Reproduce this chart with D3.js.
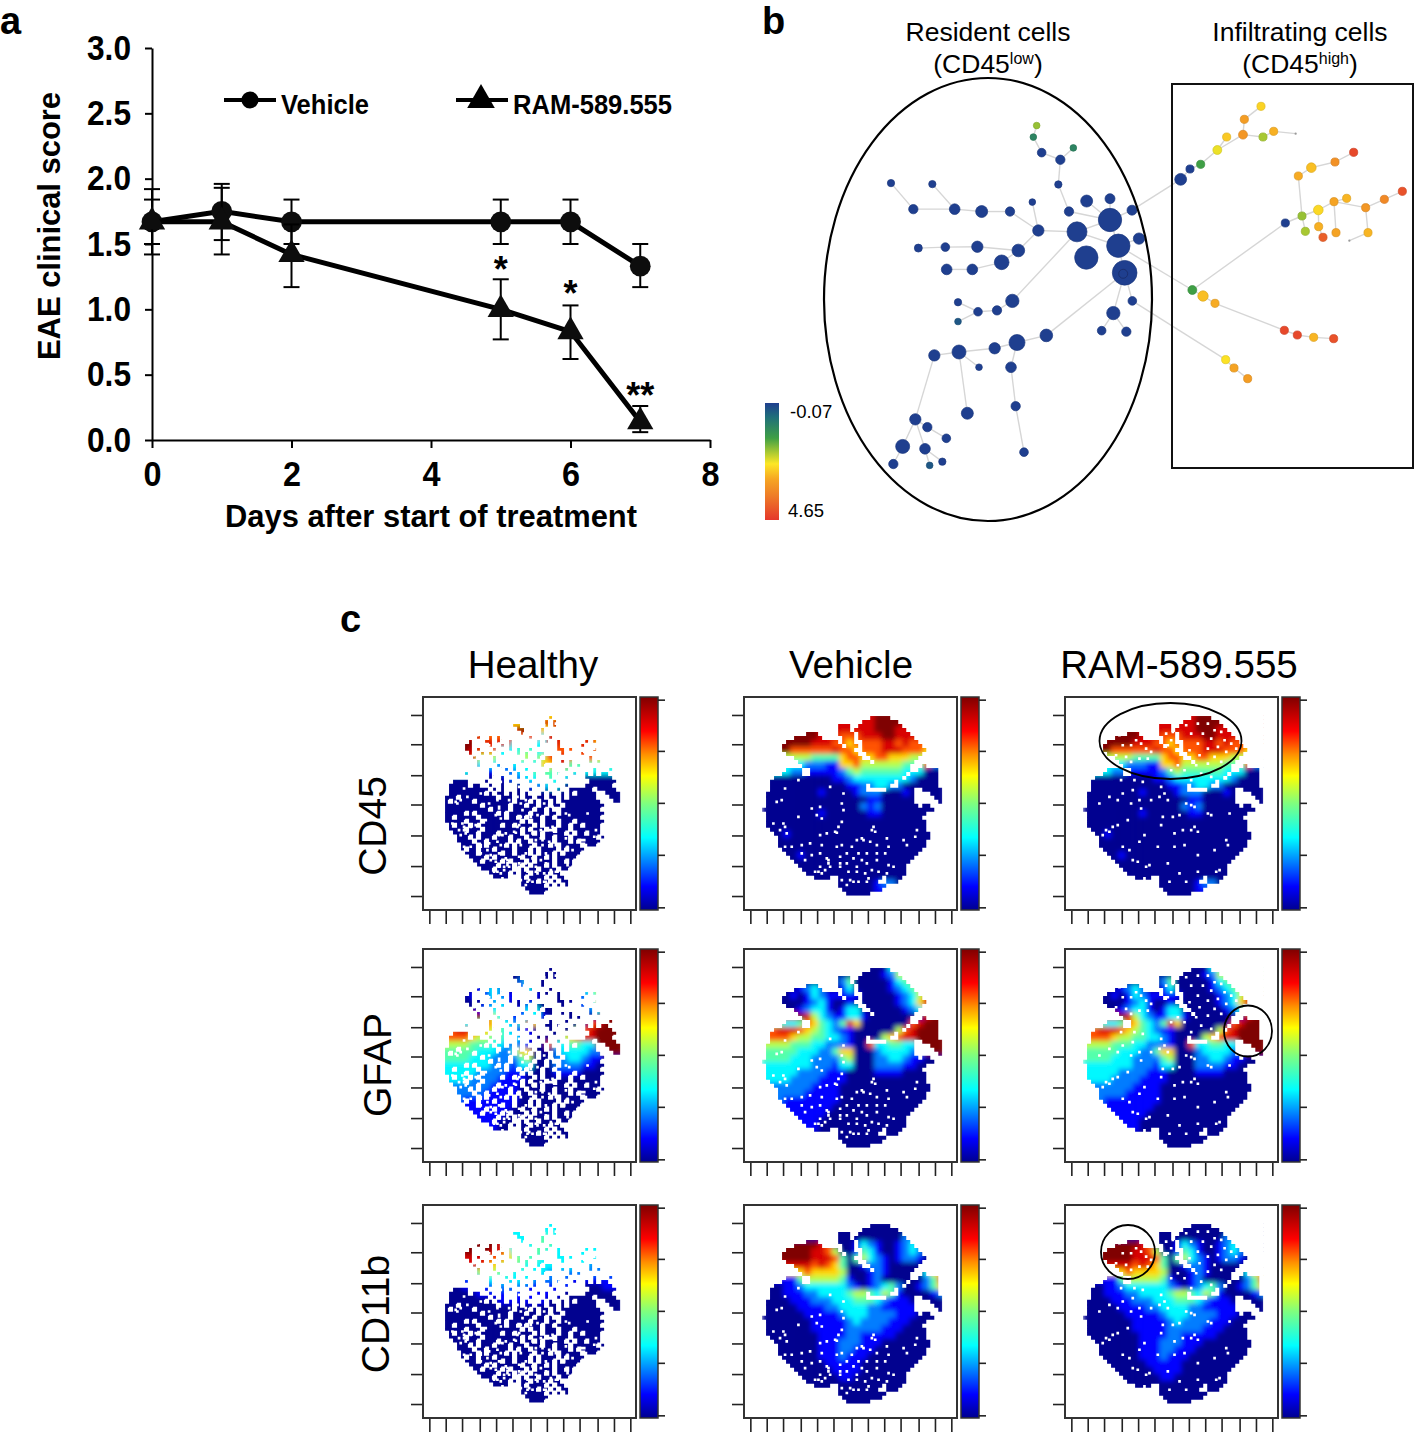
<!DOCTYPE html>
<html>
<head>
<meta charset="utf-8">
<script src="https://cdn.jsdelivr.net/npm/d3@7"></script>
<style>
  html, body { margin: 0; padding: 0; background: #fff; }
  svg { display: block; font-family: "Liberation Sans", Arial, sans-serif; }
</style>
</head>
<body>
<svg id="fig" width="1418" height="1435"></svg>
<script>
// panel a
var days = [0, 1, 2, 5, 6, 7]
var vehicleScore = [1.67, 1.75, 1.67, 1.67, 1.67, 1.33]
var vehicleHigh = [1.84, 1.96, 1.84, 1.84, 1.84, 1.5]
var vehicleLow = [1.5, 1.53, 1.5, 1.5, 1.5, 1.17]
var ramScore = [1.67, 1.67, 1.42, 1.0, 0.83, 0.14]
var ramHigh = [1.92, 1.93, 1.65, 1.23, 1.03, 0.26]
var ramLow = [1.42, 1.42, 1.17, 0.77, 0.62, 0.06]
var stars = [[5, 1.36, '*'], [6, 1.18, '*'], [7, 0.4, '**']]

// panel b: [id, x, y, radius, level] in layout units, level 0 (blue) to 1 (red)
var residentNodes = [
  ['r1',830,371,10,.40],['r2',820,405,10,.2],['r3',845,451,13,0],['r4',901,472,14,0],['r5',940,437,10,.2],
  ['r6',895,545,11,0],['r7',927,625,14,0],['r8',980,594,18,0],['r9',1050,587,15,0],['r10',1050,650,35,0],
  ['r11',1116,621,15,0],['r12',951,685,30,0],['r13',1075,726,35,0],['r14',1137,705,17,0],['r15',979,761,35,0],
  ['r16',1094,806,37,0],['r17',1117,889,13,0],['r18',1060,925,20,0],['r19',1025,977,13,0],['r20',1099,980,14,0],
  ['r21',835,681,17,0],['r22',817,597,10,0],['r23',750,625,14,0],['r24',665,625,18,0],['r25',584,618,16,0],
  ['r26',517,544,11,0],['r27',460,618,14,0],['r28',393,541,11,0],['r29',775,740,19,0],['r30',652,729,17,0],
  ['r31',556,730,13,0],['r32',475,733,12,0],['r33',725,775,22,0],['r34',637,796,16,0],['r35',560,796,16,0],
  ['r36',757,889,20,0],['r37',711,917,14,0],['r38',654,921,13,0],['r39',594,893,11,0],['r40',594,950,10,.06],
  ['r41',859,991,19,0],['r42',771,1012,24,0],['r43',704,1029,17,0],['r44',597,1040,21,0],['r45',523,1050,17,0],
  ['r46',657,1085,10,0],['r47',753,1085,16,0],['r48',767,1200,14,0],['r49',792,1336,13,0],['r50',622,1221,18,0],
  ['r51',466,1239,17,0],['r52',502,1262,14,0],['r53',559,1295,13,0],['r54',428,1319,21,0],['r55',495,1326,16,0],
  ['r56',547,1364,11,0],['r57',509,1375,10,.06],['r58',400,1371,14,0]
]
var infiltratingNodes = [
  ['i1',92,508,16,0],['i2',120,477,11,0],['i3',152,463,11,.3],['i4',202,420,12,.5],['i5',230,381,11,.58],
  ['i6',279,374,12,.7],['i7',283,328,11,.68],['i8',333,289,11,.56],['i9',339,381,11,.42],['i10',371,364,11,.63],
  ['i11',437,371,3,-1],['i12',406,639,11,0],['i13',456,618,11,.40],['i14',466,664,11,.42],['i15',505,600,13,.55],
  ['i16',506,650,11,.63],['i17',519,682,11,.88],['i18',552,575,11,.66],['i19',558,668,11,.66],['i20',590,565,11,.62],
  ['i21',647,593,11,.7],['i22',654,668,11,.62],['i23',598,692,3,-1],['i24',703,568,11,.75],['i25',757,544,11,.92],
  ['i26',445,498,11,.64],['i27',484,473,13,.6],['i28',555,456,11,.72],['i29',611,427,11,.95],['i30',127,840,12,.3],
  ['i31',159,858,14,.6],['i32',195,880,11,.64],['i33',403,961,11,.95],['i34',442,975,11,.95],['i35',491,982,11,.62],
  ['i36',551,986,11,.92],['i37',227,1049,11,.53],['i38',252,1074,11,.66],['i39',293,1106,11,.68]
]
var treeEdges = 'r1-r2 r2-r3 r3-r4 r4-r5 r4-r6 r6-r7 r7-r10 r8-r10 r9-r10 r10-r11 r10-r12 r12-r13 r10-r13 r12-r21 r21-r22 r21-r23 r23-r24 r24-r25 r25-r26 r25-r27 r27-r28 r21-r29 r29-r30 r30-r31 r31-r32 r29-r33 r33-r34 r34-r35 r12-r36 r36-r37 r37-r38 r38-r39 r38-r40 r13-r14 r13-r16 r16-r41 r41-r42 r42-r43 r43-r44 r44-r45 r44-r46 r42-r47 r47-r48 r48-r49 r44-r50 r45-r51 r51-r52 r52-r53 r51-r54 r51-r55 r55-r56 r55-r57 r54-r58 r16-r18 r18-r19 r18-r20 r16-r17 r11-i1 i1-i2 i2-i3 i3-i4 i4-i5 i4-i6 i6-i7 i7-i8 i6-i9 i9-i10 i10-i11 r13-i30 i30-i31 i31-i32 i32-i33 i33-i34 i34-i35 i35-i36 i30-i12 i12-i13 i13-i14 i13-i15 i15-i18 i15-i16 i16-i17 i18-i19 i18-i20 i18-i21 i21-i22 i22-i23 i21-i24 i24-i25 i13-i26 i26-i27 i27-i28 i28-i29 r17-i37 i37-i38 i38-i39'.split(' ')
var treeLevels = [0, .12, .3, .42, .52, .65, .8, 1]
var treeColors = ['#1f3f8f', '#1f6f7a', '#3f9f45', '#a8c832', '#fde725', '#f6a623', '#ee7a28', '#e5372b']

// panel c
var columnNames = ['Healthy', 'Vehicle', 'RAM-589.555']
var rowNames = ['CD45', 'GFAP', 'CD11b']
var xTicks = [61, 110, 159, 212, 261, 310, 364, 413, 462, 511, 565, 614, 663]
var yTicks = [74, 162, 255, 343, 436, 528, 618]
var barTicks = [.0125, .259, .503, .747, .9875]
var jetStops = [0, .11, .34, .5, .63, .73, .84, 1]
var jetColors = ['#00008f', '#0000ff', '#00ffff', '#7fff7f', '#ffff00', '#ff9000', '#ff0000', '#7f0000']

// occupied cells: spans of columns per row for the treated samples
var vehicleSpans = ['', '27-31', '25-33', '19-21 24-34', '19-21 23-35', '11-13 19-22 24-36', '8-14 20-22 24-37',
  '6-18 20-22 25-38', '5-19 21-23 25-39', '5-22 25-40', '6-23 26-39', '8-24 27-38', '9-26 28-37', '10-36 40-40',
  '6-9 12-36 39-43', '5-9 12-35 37-43', '3-34 36-43', '2-32 34-43', '2-25 27-31 34-43', '2-25 31-37 40-44',
  '1-37 42-44', '1-37 43-44', '1-37 44-44', '1-38 40-41', '0-42', '1-40', '1-39', '1-40', '1-40', '2-40', '3-41',
  '4-41', '4-40', '4-40', '5-39', '6-38', '7-37', '8-36', '9-35', '10-35', '11-35', '13-16 19-29 31-34',
  '19-28 31-33', '19-30', '20-29', '21-26']
var vehicleHoles = [[330,520],[330,530],[335,570],[350,585],[360,570],[370,575],[385,575],[410,575],[415,565],[355,545],[380,545],[405,550],[425,540],[445,545],[470,550],[490,530],[475,525],[440,510],[410,520],[395,510],[370,505],[380,530],[350,520],[330,500],[350,490],[385,490],[410,490],[440,490],[465,490],[475,470],[440,465],[420,455],[400,450],[380,450],[365,470],[335,465],[320,470],[315,425],[320,428],[430,410],[435,425],[425,420],[395,445],[470,445],[520,450],[530,465],[555,440],[560,420],[270,435],[290,430],[275,465],[240,460],[215,465],[185,470],[165,470],[215,490],[245,495],[225,510],[270,490],[290,505],[265,545],[255,545],[275,550],[285,540],[295,520],[295,510],[300,530],[270,530],[335,340],[340,360],[335,395],[325,410],[340,310],[155,330],[140,335],[165,410],[160,400],[150,420],[170,430],[130,400],[270,350],[245,355],[275,385],[205,380],[165,295],[205,270],[260,375],[300,290]]
var ramHoles = [[205,135],[215,165],[195,195],[240,165],[255,150],[270,160],[285,175],[300,185],[225,200],[240,215],[265,205],[290,205],[345,130],[365,125],[360,150],[350,165],[405,105],[440,100],[470,100],[490,120],[510,125],[420,130],[455,130],[480,145],[520,150],[540,160],[440,160],[470,175],[500,170],[525,185],[555,175],[415,180],[445,195],[490,200],[510,215],[470,220],[435,225],[400,240],[380,225],[360,240],[450,250],[480,260],[420,270],[330,290],[340,310],[325,320],[350,330],[420,345],[430,350],[405,340],[145,340],[175,320],[200,330],[240,340],[265,330],[270,355],[300,330],[210,270],[250,270],[275,275],[215,310],[245,300],[185,410],[165,420],[175,425],[155,435],[200,405],[230,390],[280,435],[330,405],[320,470],[365,380],[335,380],[385,375],[470,370],[480,375],[535,370],[430,410],[395,420],[370,430],[420,420],[440,425],[400,465],[370,470],[440,495],[490,480],[525,450],[530,465],[235,480],[265,455],[215,470],[285,530],[295,525],[245,510],[260,515],[350,520],[440,545],[495,545],[505,540],[405,575],[355,575],[385,550],[280,565]]
var healthyCells = [
  '.............................................',
  '...........................#.................',
  '..........................#.#................',
  '..................##......#.#................',
  '...................##....#...................',
  '....................#....#...................',
  '.........#..#.#.......#....#.................',
  '.......#...##.#..#......#.#..#......#.#......',
  '......##....#..#.#......#....#.....#.........',
  '......##.#...#...#.#..#......##.#.....#......',
  '.......#..#.#..#...#.#..##....#....#.........',
  '........#....#.......#..#.##.........#.......',
  '.........#...#......#..#.###..#.#....#.#.....',
  '.........#....#...#......#......#.#..........',
  '............#...#.#..#.....#...#......#...#..',
  '......#.....#....#.#...#..##.#...#..#.#.##...',
  '............#..#...#.#.#...#...#....#######..',
  '...####....#...#.#....#.....#........#######.',
  '..#####.##..#..#...#....#.#....#....#######..',
  '..##########.#.#...#..#...#..#..######.#####.',
  '..#########.#.##.#.#.#...#.#..#.#.#####..####',
  '.###.#########.###.#.##.##.##.#.#######...###',
  '.#.#####.#########.###.#.##.#.##########...##',
  '.#########.######.###.##.##.##.##########....',
  '.###########.####.#####.##.#..##########.....',
  '.#####.#.#####.#.#####.###.##.###########....',
  '.##.#####.######.##.#.###.##.###########.....',
  '.#####.###.#########.#.##.###.###.#######....',
  '..#.###.#.#####.##.####.#.###.##.##.####.....',
  '..####.###.#########.#.###.#.###.#######.....',
  '...######.####.#####.##.#.#####.#.##.###.....',
  '....###.#.###.###.###.###.##.###.######.#....',
  '....####.##.#####.#.##.#####.###.#.#####.....',
  '.....####.#.####.#.####.###.#.#####.###......',
  '.....#.##.###.####.###.#.####.#.####.........',
  '......###.#####.##.###.#.###.#.####..........',
  '.......####.#.######.##.##.#.#####...........',
  '........##.####.#.###.#.####.##.#............',
  '.........#####.###.#.#.###.#.####............',
  '..........###.####..#.##.####.##.............',
  '............#####.#.##.####.##...............',
  '.............####...#.####.#.##..............',
  '....................####.##.#.##.............',
  '....................######.#.#.#.............',
  '.....................######..................',
  '......................####...................'
]

// marker level 0-9, coarse cells, rows left out are all 0
var vehicleCd45 = ['99999999888888889999888888', '99999999888888889999888888', '99999999888888889998888888',
  '99999999888777888998888888', '99999998887767777887877777', '99997777778776777888777666',
  '55555554444677667766655555', '33333322211667555555444722', '33332211111245444444333000',
  '00000000001123333333320000', '00000000000011223322000000', '00000000100001222000100000',
  '00000000000000011000000000', '00000000000000212000000000', '00000000100000011000000000', '', '',
  '00010000000000000000000000', '', '', '00000100000000000000000000', '', '', '',
  '00000000000000001220000000', '00000000000000001100000000']
var healthyCd45 = ['66666666666666666999666666', '66666666666699888989666666', '66666666668998668886666666',
  '88888877777777388877777777', '99999788883333388777886666', '99998877333443377777887555',
  '88888555333554578877776555', '88888333223333668844444444', '33333111122334444443333333',
  '00000000012233443322000000', '00000000000012233000000000']
var vehicleGfap = ['00000000000000000033344444', '00000000000000000125555555', '00000000000240000013444444',
  '00000123200130000012345555', '00001013211111000001235788', '00000012310010000001236888',
  '00000123310133000000123688', '88888985321133100000000899', '44433476432486000000078999',
  '77888765432110000005789999', '77776554433210000567889999', '55554443322210073344339999',
  '44444333224660002333322999', '44443332222450002233211000', '33333332221330002222110000',
  '33333222211100001111000000', '33332222111100000000000000', '22222221111000000000000000',
  '22222211111000000000000000', '22211111111000000000000000', '11111111110000000000000000',
  '11111111100000000000000000', '11111111000000000000000000', '11111111000000000000000000']
var vehicleCd11b = ['', '', '00000000000000000000220000', '99999999870001321001232000',
  '99999998875001431001232000', '99999998887404532101221000', '88888887876400122100000000',
  '66666676666500012100000366', '11111455555410012000000247', '00011233333321012342001246',
  '00011122333345543541000012', '00001112223334443211100000', '00000111122333322111110000',
  '00000011111233322221110000', '00000001111123222211100000', '00000001111122222111000000',
  '00000000111122111110000000', '00000000111222111000000000', '00000000111221110000000000',
  '00000000111211100000000000', '00000000011111000000000000', '00000000001111000000000000',
  '00000000000110000000000000']
var healthyCd11b = ['33333333333333333333333333', '33333333333333333333333333', '99999999933333443333333333',
  '99999999833334443333333333', '99999998863334433333333333', '88888887765444333333333333',
  '88888876554433333333322222', '33333555443333322222222222', '11112233333332222211111111',
  '00011112222211111110000111', '00000111111111111000000000', '00000000111111100000000000']

var svg = d3.select('#fig')

var addText = (parent, x, y, text, size, weight, anchor) => parent.append('text')
    .attr('x', x).attr('y', y).text(text)
    .attr('font-size', size).attr('font-weight', weight || 'normal')
    .attr('text-anchor', anchor || 'middle').attr('fill', '#000')

// ---- a ----
var xDay = d3.scaleLinear().domain([0, 8]).range([152, 710])
var yScore = d3.scaleLinear().domain([0, 3]).range([440, 48])

var styleAxis = (g, width) => {
  g.selectAll('path, line').attr('stroke', '#000').attr('stroke-width', 2)
  g.selectAll('text').attr('font-size', 35).attr('font-weight', 'bold').attr('fill', '#000')
    .attr('font-family', '"Liberation Sans", Arial, sans-serif')
    .attr('textLength', width).attr('lengthAdjust', 'spacingAndGlyphs')
}
svg.append('g').attr('transform', 'translate(0,440)')
  .call(d3.axisBottom(xDay).tickValues([0, 2, 4, 6, 8]).tickSize(8).tickSizeOuter(0).tickPadding(13))
  .call(styleAxis, 18)
svg.append('g').attr('transform', 'translate(152,0)')
  .call(d3.axisLeft(yScore).tickValues(d3.range(0, 3.5, .5)).tickFormat(d3.format('.1f')).tickSize(7).tickSizeOuter(0).tickPadding(14))
  .call(styleAxis, 44)

var drawSeries = (score, high, low, symbol, size) => {
  var g = svg.append('g')
  var line = d3.line().x((d, i) => xDay(days[i])).y((d) => yScore(d))
  g.append('path').datum(score).attr('d', line).attr('fill', 'none').attr('stroke', '#000').attr('stroke-width', 5)
  days.forEach((day, i) => {
    var x = xDay(day)
    g.append('line').attr('x1', x).attr('x2', x).attr('y1', yScore(high[i])).attr('y2', yScore(low[i]))
      .attr('stroke', '#000').attr('stroke-width', 2)
    ;[high[i], low[i]].forEach((v) => {
      g.append('line').attr('x1', x - 8).attr('x2', x + 8).attr('y1', yScore(v)).attr('y2', yScore(v))
        .attr('stroke', '#000').attr('stroke-width', 2)
    })
  })
  g.selectAll('path.mark').data(score).enter().append('path').attr('class', 'mark')
    .attr('d', d3.symbol().type(symbol).size(size))
    .attr('transform', (d, i) => 'translate(' + xDay(days[i]) + ',' + yScore(d) + ')')
    .attr('fill', '#0d0d0d')
}
drawSeries(vehicleScore, vehicleHigh, vehicleLow, d3.symbolCircle, 340)
drawSeries(ramScore, ramHigh, ramLow, d3.symbolTriangle, 300)

stars.forEach((s) => addText(svg, xDay(s[0]), yScore(s[1]) + 20, s[2], 36, 'bold'))

var legend = [[224, 276, 250, 'Vehicle', d3.symbolCircle, 230, 281, 88], [456, 508, 481, 'RAM-589.555', d3.symbolTriangle, 330, 513, 159]]
legend.forEach((l) => {
  svg.append('line').attr('x1', l[0]).attr('x2', l[1]).attr('y1', 100).attr('y2', 100).attr('stroke', '#000').attr('stroke-width', 4)
  svg.append('path').attr('d', d3.symbol().type(l[4]).size(l[5])).attr('transform', 'translate(' + l[2] + ',100)').attr('fill', '#000')
  addText(svg, l[6], 114, l[3], 27, 'bold', 'start').attr('textLength', l[7]).attr('lengthAdjust', 'spacingAndGlyphs')
})
addText(svg, 431, 527, 'Days after start of treatment', 31, 'bold').attr('textLength', 412).attr('lengthAdjust', 'spacingAndGlyphs')
addText(svg, 0, 0, 'EAE clinical score', 31, 'bold').attr('transform', 'translate(60,226) rotate(-90)')
  .attr('textLength', 268).attr('lengthAdjust', 'spacingAndGlyphs')

addText(svg, 0, 34, 'a', 38, 'bold', 'start')
addText(svg, 762, 34, 'b', 38, 'bold', 'start')
addText(svg, 340, 632, 'c', 38, 'bold', 'start')

// ---- b ----
var xResident = d3.scaleLinear().domain([0, 1200]).range([760, 1160])
var yResident = d3.scaleLinear().domain([0, 1560]).range([0, 528])
var xInfil = d3.scaleLinear().domain([0, 804]).range([1150, 1418])
var yInfil = d3.scaleLinear().domain([0, 1410]).range([10, 480])
var treeColor = d3.scaleLinear().domain(treeLevels).range(treeColors)

var treeNodes = {}
residentNodes.forEach((n) => { treeNodes[n[0]] = { x: xResident(n[1]), y: yResident(n[2]), r: n[3] / 3, level: n[4] } })
infiltratingNodes.forEach((n) => { treeNodes[n[0]] = { x: xInfil(n[1]), y: yInfil(n[2]), r: n[3] / 2.7, level: n[4] } })

svg.append('g').selectAll('line').data(treeEdges).enter().append('line')
  .attr('x1', (e) => treeNodes[e.split('-')[0]].x).attr('y1', (e) => treeNodes[e.split('-')[0]].y)
  .attr('x2', (e) => treeNodes[e.split('-')[1]].x).attr('y2', (e) => treeNodes[e.split('-')[1]].y)
  .attr('stroke', '#d6d6d6').attr('stroke-width', 1.4)
svg.append('g').selectAll('circle').data(Object.values(treeNodes)).enter().append('circle')
  .attr('cx', (n) => n.x).attr('cy', (n) => n.y).attr('r', (n) => n.r)
  .attr('fill', (n) => n.level < 0 ? '#999' : treeColor(n.level))
  .attr('stroke', (n) => n.level < 0 ? 'none' : d3.color(treeColor(n.level)).darker(.35)).attr('stroke-width', .7)
svg.append('circle').attr('cx', treeNodes.r16.x - 1.5).attr('cy', treeNodes.r16.y + 1).attr('r', 4.5)
  .attr('fill', 'none').attr('stroke', '#1a2f70').attr('stroke-width', 1)

svg.append('ellipse').attr('cx', 988).attr('cy', 299.5).attr('rx', 164).attr('ry', 221.5)
  .attr('fill', 'none').attr('stroke', '#000').attr('stroke-width', 2.2)
svg.append('rect').attr('x', 1172).attr('y', 84).attr('width', 241).attr('height', 384)
  .attr('fill', 'none').attr('stroke', '#111').attr('stroke-width', 2)

var defs = svg.append('defs')
var treeGrad = defs.append('linearGradient').attr('id', 'treeBar').attr('x1', 0).attr('x2', 0).attr('y1', 0).attr('y2', 1)
treeLevels.forEach((l, i) => treeGrad.append('stop').attr('offset', l).attr('stop-color', treeColors[i]))
svg.append('rect').attr('x', 765).attr('y', 403).attr('width', 14).attr('height', 117).attr('fill', 'url(#treeBar)')
addText(svg, 790, 418, '-0.07', 18.5, 'normal', 'start')
addText(svg, 788, 517, '4.65', 18.5, 'normal', 'start')

var twoLine = (cx, first, second, sup) => {
  addText(svg, cx, 41, first, 26.5)
  var t = addText(svg, cx, 73, '', 26.5)
  t.append('tspan').text('(' + second)
  t.append('tspan').text(sup).attr('font-size', 16).attr('dy', -9)
  t.append('tspan').text(')').attr('dy', 9)
}
twoLine(988, 'Resident cells', 'CD45', 'low')
twoLine(1300, 'Infiltrating cells', 'CD45', 'high')

// ---- c ----
var boxLefts = [423, 744, 1065]
var boxTops = [697, 949, 1205]
var boxSize = 213
var xMap = d3.scaleLinear().domain([42, 680]).range([0, boxSize])
var yMap = d3.scaleLinear().domain([20, 660]).range([0, boxSize])
var yBar = d3.scaleLinear().domain([0, 1]).range([boxSize, 0])
var jet = d3.scaleLinear().domain(jetStops).range(jetColors)

var jetGrad = defs.append('linearGradient').attr('id', 'jetBar').attr('x1', 0).attr('x2', 0).attr('y1', 1).attr('y2', 0)
jetStops.forEach((l, i) => jetGrad.append('stop').attr('offset', l).attr('stop-color', jetColors[i]))
defs.append('filter').attr('id', 'soft').attr('x', '-10%').attr('y', '-10%').attr('width', '120%').attr('height', '120%')
  .append('feGaussianBlur').attr('stdDeviation', 2.4)
defs.append('filter').attr('id', 'edge').attr('x', '-5%').attr('y', '-5%').attr('width', '110%').attr('height', '110%')
  .append('feGaussianBlur').attr('stdDeviation', .6)
var gridX0 = 96, gridY0 = 65, maskStep = 12, valueStep = 21, maskCols = 45, maskRows = 46
var gridX1 = gridX0 + maskCols * maskStep, gridY1 = gridY0 + maskRows * maskStep
defs.append('clipPath').attr('id', 'mapArea').append('rect')
  .attr('x', xMap(gridX0)).attr('y', yMap(gridY0))
  .attr('width', xMap(gridX1) - xMap(gridX0))
  .attr('height', yMap(gridY1) - yMap(gridY0))

var spansToCells = (spans) => spans.map((row) => {
  var cells = new Array(maskCols).fill('.')
  row.split(' ').filter((s) => s).forEach((s) => {
    var ends = s.split('-').map(Number)
    for (var k = ends[0]; k <= ends[1]; ++k) cells[k] = '#'
  })
  return cells.join('')
})
var vehicleCells = spansToCells(vehicleSpans)

var columnCells = [healthyCells, vehicleCells, vehicleCells]
var columnHoles = [vehicleHoles.concat(ramHoles), vehicleHoles, ramHoles]
var panelValues = [
  [healthyCd45, vehicleCd45, vehicleCd45],
  [vehicleGfap, vehicleGfap, vehicleGfap],
  [healthyCd11b, vehicleCd11b, vehicleCd11b]
]

var boxPath = (x0, y0, x1, y1) => 'M' + xMap(x0) + ',' + yMap(y0) + 'H' + xMap(x1) + 'V' + yMap(y1) + 'H' + xMap(x0) + 'Z'

// white path over every empty cell, merged in runs along the row
var emptyPath = (cells, shrink) => {
  var d = boxPath(42, 20, 680, gridY0) + boxPath(42, gridY1, 680, 660) + boxPath(42, 20, gridX0, 660) + boxPath(gridX1, 20, 680, 660)
  for (var r = 0; r < maskRows; ++r) {
    var row = cells[r] || '', below = cells[r + 1] || ''
    var k = 0
    while (k < maskCols) {
      if (row[k] === '#') {
        // lone cells of the sparse sample are smaller than the cell step
        if (shrink && row[k + 1] !== '#') d += boxPath(gridX0 + (k + 1) * maskStep - shrink, gridY0 + r * maskStep, gridX0 + (k + 1) * maskStep, gridY0 + (r + 1) * maskStep)
        if (shrink && below[k] !== '#') d += boxPath(gridX0 + k * maskStep, gridY0 + (r + 1) * maskStep - shrink, gridX0 + (k + 1) * maskStep, gridY0 + (r + 1) * maskStep)
        ++k
        continue
      }
      var start = k
      while (k < maskCols && row[k] !== '#') ++k
      d += boxPath(gridX0 + start * maskStep, gridY0 + r * maskStep, gridX0 + k * maskStep, gridY0 + (r + 1) * maskStep)
    }
  }
  return d
}
var holePath = (holes) => holes.map((h) => boxPath(h[0] - 4, h[1] - 4, h[0] + 4, h[1] + 4)).join('')

var drawPanel = (col, row) => {
  var g = svg.append('g').attr('transform', 'translate(' + boxLefts[col] + ',' + boxTops[row] + ')')
  var values = panelValues[row][col]
  var cellsOut = []
  d3.range(27).forEach((j) => {
    var line = values[j] || ''
    d3.range(26).forEach((i) => cellsOut.push({ i, j, level: +(line[i] || 0) }))
  })
  g.append('g').attr('clip-path', 'url(#mapArea)').append('g').attr('filter', 'url(#soft)')
    .selectAll('rect').data(cellsOut).enter().append('rect')
    .attr('x', (c) => xMap(gridX0 + c.i * valueStep)).attr('y', (c) => yMap(gridY0 + c.j * valueStep))
    .attr('width', xMap(gridX0 + valueStep) - xMap(gridX0) + .5).attr('height', yMap(gridY0 + valueStep) - yMap(gridY0) + .5)
    .attr('fill', (c) => jet(c.level / 9))
  g.append('path').attr('filter', 'url(#edge)')
    .attr('d', emptyPath(columnCells[col], col === 0 ? 3.5 : 0) + holePath(columnHoles[col])).attr('fill', '#fff')

  var tickStyle = (a) => {
    a.select('.domain').remove()
    a.selectAll('line').attr('stroke', '#222').attr('stroke-width', 1.6)
  }
  g.append('g').attr('transform', 'translate(0,' + boxSize + ')')
    .call(d3.axisBottom(xMap).tickValues(xTicks).tickFormat('').tickSize(14)).call(tickStyle)
  g.append('g').call(d3.axisLeft(yMap).tickValues(yTicks).tickFormat('').tickSize(12)).call(tickStyle)
  g.append('rect').attr('width', boxSize).attr('height', boxSize).attr('fill', 'none').attr('stroke', '#333').attr('stroke-width', 2)

  var bar = g.append('g').attr('transform', 'translate(' + (boxSize + 4) + ',0)')
  bar.append('rect').attr('width', 18).attr('height', boxSize).attr('fill', 'url(#jetBar)').attr('stroke', '#333').attr('stroke-width', 1.5)
  bar.append('g').attr('transform', 'translate(18,0)')
    .call(d3.axisRight(yBar).tickValues(barTicks).tickFormat('').tickSize(7)).call(tickStyle)
}
rowNames.forEach((name, row) => {
  columnNames.forEach((c, col) => drawPanel(col, row))
})

var titleCenters = [533, 851, 1179]
columnNames.forEach((name, col) => addText(svg, titleCenters[col], 678, name, 38.5))
var labelCenters = [826, 1065, 1314]
var labelLefts = [386, 391, 389]
rowNames.forEach((name, row) => {
  addText(svg, 0, 0, name, 39).attr('transform', 'translate(' + labelLefts[row] + ',' + labelCenters[row] + ') rotate(-90)')
})

// marks drawn on the RAM-589.555 maps
var marks = [[1170.5, 741, 71, 38], [1248, 1031, 24, 25.5], [1128, 1252, 27, 27]]
marks.forEach((m) => {
  svg.append('ellipse').attr('cx', m[0]).attr('cy', m[1]).attr('rx', m[2]).attr('ry', m[3])
    .attr('fill', 'none').attr('stroke', '#000').attr('stroke-width', 1.8)
})
</script>
</body>
</html>
